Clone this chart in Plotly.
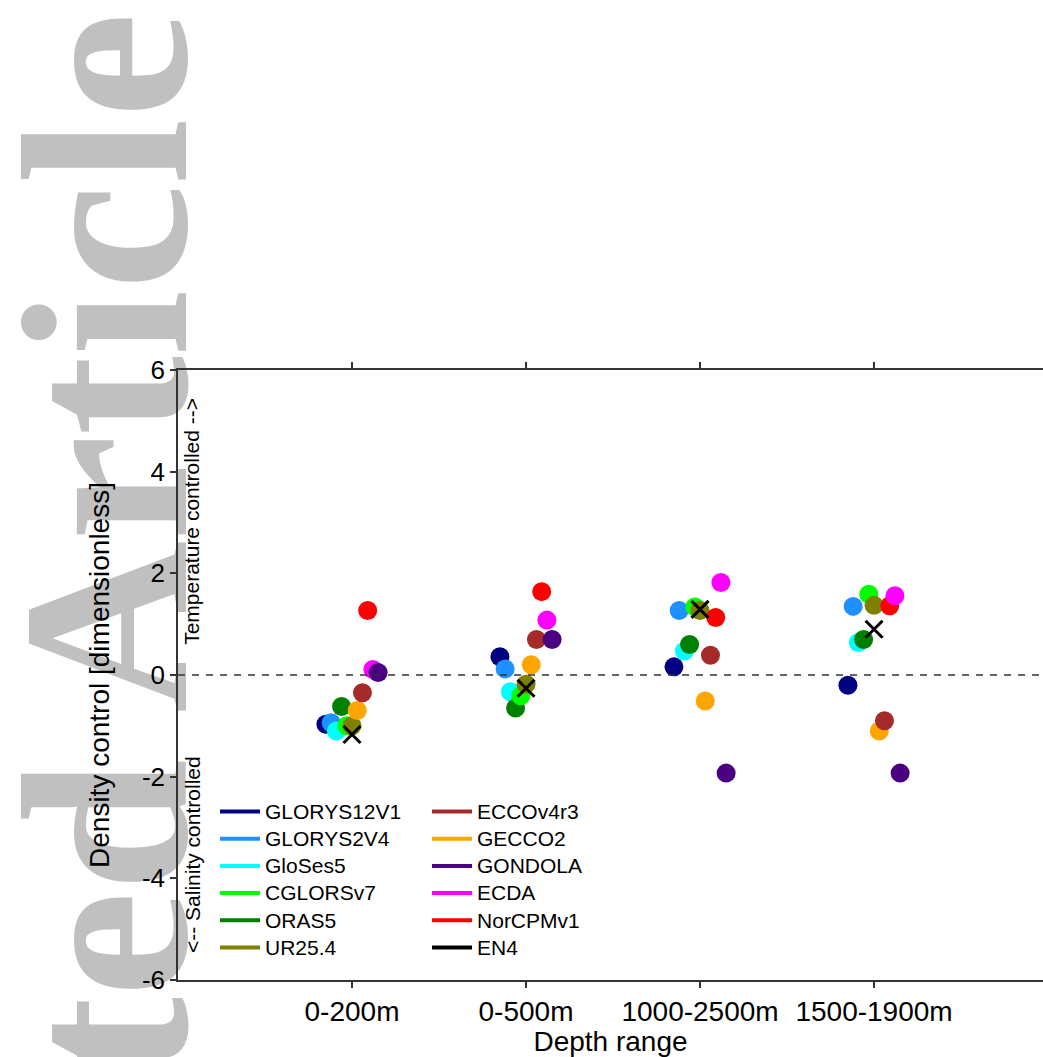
import plotly.graph_objects as go

# Depth ranges shown along the x axis
depth_ranges = ["0-200m", "0-500m", "1000-2500m", "1500-1900m"]

# Density control (dimensionless) per product, one value per depth range
glorys12v1 = [-0.97, 0.36, 0.16, -0.20]
glorys2v4 = [-0.94, 0.12, 1.27, 1.35]
gloses5 = [-1.10, -0.33, 0.47, 0.64]
cglorsv7 = [-1.00, -0.41, 1.34, 1.59]
oras5 = [-0.62, -0.65, 0.60, 0.70]
ur25_4 = [-1.00, -0.18, 1.27, 1.37]
eccov4r3 = [-0.35, 0.70, 0.39, -0.90]
gecco2 = [-0.70, 0.20, -0.51, -1.10]
gondola = [0.05, 0.70, -1.93, -1.93]
ecda = [0.11, 1.08, 1.82, 1.56]
norcpmv1 = [1.27, 1.64, 1.13, 1.36]
en4 = [-1.17, -0.26, 1.29, 0.90]

y_ticks = [-6, -4, -2, 0, 2, 4, 6]
y_tick_labels = ["-6", "-4", "-2", "0", "2", "4", "6"]

FONT = "Liberation Sans"

# (name, values, colour, dodge slot within a depth group)
products = [
    ("GLORYS12V1", glorys12v1, "#000080", -5),
    ("GLORYS2V4", glorys2v4, "#1E90FF", -4),
    ("GloSes5", gloses5, "#00FFFF", -3),
    ("ORAS5", oras5, "#008000", -2),
    ("CGLORSv7", cglorsv7, "#00FF00", -1),
    ("UR25.4", ur25_4, "#808000", 0),
    ("GECCO2", gecco2, "#FFA500", 1),
    ("ECCOv4r3", eccov4r3, "#A52A2A", 2),
    ("NorCPMv1", norcpmv1, "#FF0000", 3),
    ("ECDA", ecda, "#FF00FF", 4),
    ("GONDOLA", gondola, "#4B0082", 5),
]
legend_order = ["GLORYS12V1", "GLORYS2V4", "GloSes5", "CGLORSv7", "ORAS5", "UR25.4",
                "ECCOv4r3", "GECCO2", "GONDOLA", "ECDA", "NorCPMv1", "EN4"]
DODGE = 0.03

fig = go.Figure()
base_x = list(range(1, len(depth_ranges) + 1))

for name, vals, color, slot in products:
    fig.add_trace(go.Scatter(
        x=[b + slot * DODGE for b in base_x], y=vals, mode="markers",
        marker=dict(size=19, color=color, line=dict(width=0)),
        name=name, showlegend=False, cliponaxis=False,
    ))

fig.add_trace(go.Scatter(
    x=base_x, y=en4, mode="markers",
    marker=dict(symbol="x-thin", size=17, line=dict(width=3, color="black")),
    name="EN4", showlegend=False, cliponaxis=False,
))

# Legend entries drawn as short coloured lines, split into two columns
colours = {p[0]: p[2] for p in products}
colours["EN4"] = "black"
for i, name in enumerate(legend_order):
    fig.add_trace(go.Scatter(
        x=[None], y=[None], mode="lines",
        name=f'<span style="font-size:21px">{name}</span>',
        line=dict(color=colours[name], width=4),
        legend="legend" if i < 6 else "legend2", legendrank=i,
    ))

# Zero line separating salinity- and temperature-controlled regimes
fig.add_shape(type="line", xref="paper", x0=0, x1=1, yref="y", y0=0, y1=0,
              line=dict(color="#333333", width=1.5, dash="7px,7px"))

# Watermark in the background layer
fig.add_shape(type="rect", xref="paper", yref="paper",
              x0=-0.2138, x1=-0.0138, y0=-1.2, y1=1.61,
              line=dict(width=0), fillcolor="rgba(0,0,0,0)", layer="below",
              label=dict(text="<b>Accepted Article</b>", textangle=-90,
                         textposition="middle center",
                         font=dict(family="Liberation Serif", size=238, color="#C0C0C0")))

fig.add_annotation(text="Temperature controlled -->", x=0.08, y=5.5, xref="x", yref="y",
                   textangle=-90, xanchor="center", yanchor="top", showarrow=False,
                   font=dict(family=FONT, size=21, color="black"))
fig.add_annotation(text="&lt;-- Salinity controlled", x=0.08, y=-5.5, xref="x", yref="y",
                   textangle=-90, xanchor="center", yanchor="bottom", showarrow=False,
                   font=dict(family=FONT, size=21, color="black"))

legend_style = dict(font=dict(family=FONT, size=18.6, color="black"),
                    bgcolor="rgba(0,0,0,0)", borderwidth=0,
                    xref="paper", yref="paper", xanchor="left", yanchor="top",
                    itemwidth=40, traceorder="normal")

fig.update_layout(
    width=1043, height=1057,
    margin=dict(l=178, r=0, t=370, b=77),
    paper_bgcolor="white", plot_bgcolor="white",
    font=dict(family=FONT, color="black"),
    legend=dict(x=0.0428, y=0.3066, **legend_style),
    legend2=dict(x=0.2879, y=0.3066, **legend_style),
    xaxis=dict(
        range=[0, 4.971], tickvals=base_x, ticktext=depth_ranges,
        showgrid=False, zeroline=False, showline=True, linecolor="#333333", linewidth=1.5,
        mirror="ticks", ticks="outside", ticklen=6, tickcolor="#333333", tickwidth=1.5,
        tickfont=dict(family=FONT, size=28, color="black"),
        title=dict(text="Depth range", font=dict(family=FONT, size=28, color="black"), standoff=2),
    ),
    yaxis=dict(
        range=[-6, 6], tickvals=y_ticks, ticktext=y_tick_labels,
        showgrid=False, zeroline=False, showline=True, linecolor="#333333", linewidth=1.5,
        ticks="outside", ticklen=6, tickcolor="#333333", tickwidth=1.5,
        tickfont=dict(family=FONT, size=26, color="black"),
        title=dict(text="Density control [dimensionless]", font=dict(family=FONT, size=28, color="black"), standoff=24),
    ),
)

fig.write_html("out.html")
